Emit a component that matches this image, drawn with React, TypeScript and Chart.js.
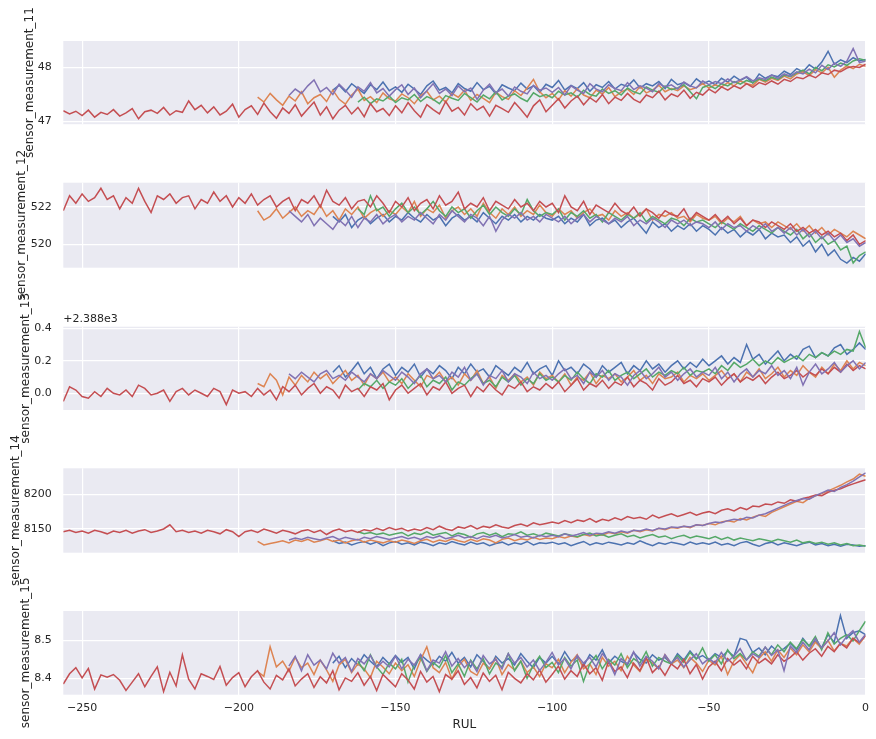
import { useEffect, useRef } from "react";
import { Chart, registerables } from "chart.js";

Chart.register(...registerables);
Chart.defaults.font.family = "'DejaVu Sans', 'Liberation Sans', sans-serif";

const WIDTH = 876;
const HEIGHT = 739;
const PLOT_LEFT = 63.3;
const PLOT_RIGHT = 865.7;
const TEXT = "#262626";

// one point every 2 cycles, the last point of every engine is RUL 0
const RUL_STEP = 2;
const RUL_MIN = -256;
const RUL_TICKS = [-250, -200, -150, -100, -50, 0];
// hue order: blue, orange, green, red, purple
const ENGINE_COLORS = ["#4c72b0", "#dd8452", "#55a868", "#c44e52", "#8172b3"];

// ---- sensor_measurement_11 ----
const s11Blue = [
  47.58, 47.67, 47.55, 47.7, 47.61, 47.52, 47.68, 47.59, 47.73, 47.57,
  47.64, 47.54, 47.69, 47.6, 47.5, 47.66, 47.75, 47.58, 47.63, 47.53,
  47.7, 47.61, 47.56, 47.72, 47.59, 47.65, 47.51, 47.68, 47.62, 47.57,
  47.71, 47.6, 47.66, 47.54, 47.69,
  47.63, 47.76, 47.58, 47.67, 47.61, 47.72, 47.56, 47.68, 47.63, 47.74,
  47.6, 47.69, 47.65, 47.77, 47.62, 47.7, 47.66, 47.74, 47.61, 47.78,
  47.68, 47.72, 47.65, 47.79, 47.7,
  47.75, 47.68, 47.8, 47.73, 47.84, 47.76, 47.82, 47.71, 47.88, 47.8,
  47.86, 47.83, 47.93,
  47.87, 47.98, 47.92, 48.05, 47.97, 48.1, 48.3, 48.06, 48.14, 48.09,
  48.18, 48.12, 48.15,
];
const s11Orange = [
  47.45, 47.36, 47.52, 47.4, 47.3, 47.47, 47.38, 47.55, 47.33, 47.44,
  47.5, 47.37, 47.58, 47.41, 47.32, 47.49, 47.6, 47.39, 47.46, 47.35,
  47.53, 47.42,
  47.38, 47.51, 47.44, 47.33, 47.48, 47.56, 47.4, 47.47, 47.36, 47.52,
  47.45, 47.58, 47.39, 47.5, 47.43, 47.35, 47.54, 47.46, 47.41, 47.57,
  47.48, 47.62, 47.78, 47.55, 47.44,
  47.52, 47.4, 47.57, 47.47, 47.61, 47.49, 47.44, 47.58, 47.51, 47.63,
  47.46, 47.55, 47.6, 47.5, 47.65, 47.53, 47.58, 47.67, 47.55, 47.61,
  47.57, 47.66, 47.59, 47.63, 47.7,
  47.62, 47.68, 47.64, 47.72, 47.66, 47.75, 47.7, 47.67, 47.78, 47.73,
  47.8, 47.76, 47.84,
  47.79, 47.88, 47.92, 47.85, 47.96, 47.9, 48.0, 47.82, 47.95, 48.03,
  47.98, 48.06, 48.02,
];
const s11Green = [
  47.36, 47.45, 47.33, 47.42, 47.38, 47.47,
  47.35, 47.44, 47.4, 47.5, 47.37, 47.46, 47.41, 47.33, 47.48, 47.43,
  47.39, 47.52, 47.44, 47.36, 47.49, 47.42, 47.55, 47.4, 47.47, 47.51,
  47.43, 47.37, 47.53, 47.46, 47.5,
  47.44, 47.56, 47.49, 47.53, 47.45, 47.58, 47.5, 47.47, 47.6, 47.52,
  47.57, 47.49, 47.62, 47.55, 47.51, 47.64, 47.58, 47.54, 47.66, 47.59,
  47.62, 47.68, 47.55, 47.42, 47.63,
  47.67, 47.61, 47.7, 47.66, 47.74, 47.69, 47.76, 47.72, 47.79, 47.75,
  47.82, 47.78, 47.86,
  47.83, 47.9, 47.95, 47.88, 48.0, 47.94, 48.05, 48.01, 48.08, 48.04,
  48.12, 48.16, 48.13,
];
const s11Red = [
  47.2, 47.14, 47.19, 47.11, 47.21, 47.08, 47.17, 47.13, 47.22, 47.1,
  47.16, 47.24, 47.05, 47.18, 47.21, 47.15, 47.26, 47.12, 47.2, 47.17,
  47.38, 47.22, 47.3, 47.16, 47.27, 47.12, 47.19, 47.32,
  47.08, 47.22, 47.29, 47.13, 47.34, 47.18, 47.06, 47.25, 47.15, 47.31,
  47.1, 47.23, 47.36, 47.12, 47.27, 47.05, 47.21, 47.3, 47.14, 47.26,
  47.09, 47.33, 47.18, 47.24, 47.11,
  47.29, 47.16, 47.35, 47.2, 47.08, 47.31, 47.22, 47.14, 47.37, 47.19,
  47.26, 47.12, 47.33, 47.21, 47.28, 47.1, 47.3, 47.24, 47.17, 47.35,
  47.22, 47.08, 47.29, 47.4, 47.18,
  47.3, 47.42, 47.25, 47.38, 47.47, 47.31, 47.44, 47.36, 47.5, 47.33,
  47.45, 47.39, 47.52, 47.41, 47.35, 47.49, 47.44, 47.56, 47.4, 47.51,
  47.46, 47.58, 47.43, 47.54, 47.49,
  47.6, 47.53, 47.64, 47.58, 47.66, 47.61, 47.7, 47.63, 47.72, 47.68,
  47.75, 47.69, 47.78, 47.74, 47.82, 47.79, 47.86, 47.81, 47.9, 47.87,
  47.95, 47.92, 47.99, 48.02, 48.0, 48.06,
];
const s11Purple = [
  47.48, 47.6, 47.52, 47.66, 47.77, 47.55, 47.63, 47.5, 47.69, 47.58,
  47.45, 47.64, 47.56, 47.72, 47.53, 47.61, 47.47,
  47.59, 47.68, 47.5, 47.62, 47.44, 47.57, 47.7, 47.52, 47.6, 47.48,
  47.66, 47.55, 47.62, 47.41, 47.58, 47.69, 47.53, 47.6, 47.47, 47.64,
  47.56, 47.51, 47.67, 47.58, 47.62,
  47.54, 47.63, 47.49, 47.66, 47.58, 47.52, 47.7, 47.6, 47.55, 47.68,
  47.61, 47.57, 47.72, 47.59, 47.66, 47.62, 47.55, 47.7, 47.64, 47.68,
  47.6, 47.73, 47.66, 47.62, 47.75,
  47.68, 47.74, 47.7, 47.79, 47.72, 47.77, 47.83, 47.75, 47.81, 47.78,
  47.86, 47.8, 47.88,
  47.84, 47.92, 47.88, 47.97, 47.9, 48.04, 47.96, 48.08, 48.02, 48.12,
  48.35, 48.09, 48.12,
];

// ---- sensor_measurement_12 ----
const s12Blue = [
  521.5, 521.2, 521.6, 520.9, 521.3, 521.5, 521.1, 521.4, 521.6, 521.2,
  521.5, 521.3, 521.7, 521.4, 521.2, 521.6, 521.3, 521.5, 521.0, 521.4,
  521.6, 521.3, 521.5, 521.2, 521.7, 521.4, 521.1, 521.5, 521.3, 521.6,
  521.2, 521.5, 521.3, 521.6, 521.4,
  521.3, 521.5, 521.1, 521.4, 521.2, 521.6, 521.0, 521.3, 521.4, 521.1,
  521.3, 520.9, 521.2, 521.4, 521.0, 520.6, 521.2, 520.9, 521.1, 520.7,
  521.0, 520.8, 521.1, 520.7, 521.0,
  520.8, 520.5, 520.9, 520.6, 520.8, 520.4, 520.7, 520.5, 520.8, 520.3,
  520.6, 520.4, 520.5,
  520.1, 520.4, 519.9, 520.2, 519.6, 520.0, 519.4, 519.7, 519.2, 519.0,
  519.3, 519.1, 519.5,
];
const s12Orange = [
  521.8, 521.3, 521.5, 521.9, 521.4, 521.7, 522.0, 521.5, 521.8, 521.6,
  522.1, 521.5, 521.8, 521.3, 521.9, 521.6, 522.0, 521.4, 521.7, 521.9,
  521.5, 521.8,
  521.6, 522.0, 521.7, 522.3, 521.5, 521.9, 521.7, 522.1, 521.4, 521.8,
  522.0, 521.6, 521.9, 521.5, 522.2, 521.7, 521.4, 521.9, 521.6, 522.0,
  521.5, 521.8, 521.6, 522.1, 521.7,
  521.5, 521.9, 521.6, 521.8, 521.4, 521.7, 521.9, 521.5, 521.6, 521.3,
  521.8, 521.5, 521.7, 521.4, 521.6, 521.9, 521.3, 521.6, 521.5, 521.7,
  521.4, 521.5, 521.2, 521.6, 521.4,
  521.3, 521.5, 521.1, 521.4, 521.2, 521.5, 521.0, 521.3, 521.1, 521.2,
  520.9, 521.2, 521.0,
  520.8, 521.1, 520.7, 521.0, 520.6, 520.9, 520.5, 520.8, 520.6, 520.4,
  520.7, 520.5, 520.3,
];
const s12Green = [
  521.9, 521.6, 522.6, 521.8, 522.0, 521.5,
  521.9, 522.2, 521.7, 522.0, 521.6, 521.9, 522.3, 521.8, 521.5, 522.0,
  521.7, 521.9, 521.4, 521.8, 522.1, 521.6, 522.0, 521.7, 521.5, 521.9,
  521.6, 522.4, 521.8, 521.5, 521.7,
  521.6, 521.9, 521.3, 521.7, 521.5, 521.8, 521.4, 521.6, 521.2, 521.7,
  521.5, 521.3, 521.6, 521.4, 521.7, 521.2, 521.5, 521.3, 521.1, 521.4,
  521.3, 521.0, 521.4, 521.2, 521.3,
  521.1, 520.9, 521.2, 521.0, 520.8, 521.1, 520.9, 520.7, 521.0, 520.8,
  520.6, 520.9, 520.7,
  520.5, 520.8, 520.3, 520.6, 520.1, 520.4, 520.0, 520.2, 519.7, 519.9,
  519.0, 519.4, 519.6,
];
const s12Red = [
  521.8, 522.6, 522.2, 522.7, 522.3, 522.5, 523.0, 522.4, 522.6, 521.9,
  522.5, 522.2, 523.0, 522.3, 521.7, 522.6, 522.4, 522.7, 522.2, 522.5,
  522.6, 521.9, 522.4, 522.2, 522.8, 522.3, 522.6, 522.0,
  522.5, 522.2, 522.7, 522.1, 522.4, 522.6, 522.0, 522.3, 522.5, 521.8,
  522.4, 522.2, 522.6, 522.0, 522.9, 522.3, 522.1, 522.5, 521.9, 522.3,
  522.4, 522.0, 522.6, 522.2, 521.7,
  522.3, 522.0, 522.5, 521.8, 522.2, 522.4, 521.9, 522.6, 522.1, 522.3,
  522.8, 521.9, 522.2, 522.0, 522.5, 521.8, 522.3, 522.1, 521.9, 522.4,
  522.0, 522.2, 521.8, 522.3, 522.0,
  522.2, 521.7, 522.6, 522.0, 521.8, 522.3, 521.6, 522.1, 521.9, 521.7,
  522.2, 521.8, 521.6, 522.0, 521.5, 521.9, 521.7, 521.4, 521.8, 521.6,
  521.5, 521.9, 521.3, 521.7, 521.5,
  521.3, 521.6, 521.2, 521.5, 521.1, 521.4, 521.0, 521.3, 521.2, 520.9,
  521.2, 521.0, 520.8, 521.1, 520.7, 520.9, 520.6, 520.8, 520.5, 520.7,
  520.4, 520.6, 520.2, 520.5, 520.0, 520.2,
];
const s12Purple = [
  521.8, 521.5, 521.2, 521.6, 521.0, 521.4, 521.1, 520.8, 521.3, 521.0,
  521.5, 520.9, 521.4, 521.2, 521.6, 521.1, 521.4,
  521.6, 521.2, 521.5, 521.3, 521.7, 521.4, 521.1, 521.6, 521.3, 521.8,
  521.5, 521.2, 521.6, 521.4, 521.0, 521.5, 520.7, 521.3, 521.6, 521.4,
  521.7, 521.3, 521.5, 521.2, 521.6,
  521.4, 521.2, 521.5, 521.1, 521.4, 521.6, 521.2, 521.5, 521.3, 521.1,
  521.4, 521.2, 521.5, 521.0, 521.3, 521.1, 521.4, 521.2, 520.9, 521.3,
  521.1, 521.3, 521.0, 521.2, 521.1,
  520.9, 521.2, 520.8, 521.1, 520.9, 521.0, 520.7, 521.0, 520.8, 521.1,
  520.7, 520.9, 520.6,
  520.9, 520.5, 520.8, 520.4, 520.7, 520.3, 520.6, 520.2, 520.5, 520.1,
  520.3, 519.9, 520.1,
];

// ---- sensor_measurement_13 (offset from 2388) ----
const S13_BASE = 2388;
const s13Blue = [
  0.13, 0.17, 0.1, 0.14, 0.19, 0.12, 0.16, 0.09, 0.15, 0.18,
  0.11, 0.16, 0.13, 0.18, 0.1, 0.15, 0.12, 0.17, 0.14, 0.09,
  0.16, 0.12, 0.18, 0.13, 0.15, 0.1, 0.17, 0.14, 0.11, 0.16,
  0.13, 0.19, 0.12, 0.15, 0.17,
  0.11, 0.2, 0.14, 0.16, 0.12, 0.18, 0.15, 0.1, 0.17, 0.13,
  0.16, 0.19, 0.12, 0.17, 0.14, 0.2, 0.15, 0.18, 0.13, 0.17,
  0.2, 0.15, 0.19, 0.16, 0.21,
  0.17, 0.2, 0.23, 0.18, 0.22, 0.19, 0.3, 0.21, 0.24, 0.18,
  0.22, 0.26, 0.2,
  0.24, 0.21, 0.27, 0.29, 0.22, 0.25, 0.23, 0.28, 0.3, 0.24,
  0.27, 0.31, 0.27,
];
const s13Orange = [
  0.06, 0.04, 0.12, 0.08, -0.01, 0.1, 0.05, 0.11, 0.07, 0.13,
  0.09, 0.12, 0.06, 0.1, 0.14, 0.08, 0.11, 0.05, 0.12, 0.09,
  0.13, 0.07,
  0.1, 0.06, 0.12, 0.08, 0.04, 0.11, 0.09, 0.13, 0.07, 0.1,
  0.05, 0.12, 0.08, 0.14, 0.06, 0.1, 0.03, 0.11, 0.08, 0.12,
  0.07, 0.1, 0.05, 0.13, 0.09,
  0.11, 0.07, 0.12, 0.05, 0.1, 0.08, 0.13, 0.06, 0.11, 0.09,
  0.12, 0.07, 0.1, 0.14, 0.08, 0.11, 0.06, 0.12, 0.09, 0.1,
  0.13, 0.07, 0.11, 0.09, 0.12,
  0.08, 0.11, 0.14, 0.09, 0.12, 0.07, 0.13, 0.1, 0.15, 0.09,
  0.12, 0.16, 0.1,
  0.14, 0.11, 0.17, 0.13, 0.1, 0.16, 0.12, 0.18, 0.14, 0.2,
  0.15, 0.19, 0.17,
];
const s13Green = [
  0.02, 0.06, 0.04, 0.08, 0.03, 0.07,
  0.05, 0.09, 0.03, 0.07, 0.11, 0.04, 0.08, 0.06, 0.1, 0.02,
  0.07, 0.05, 0.09, 0.12, 0.06, 0.08, 0.04, 0.1, 0.07, 0.11,
  0.05, 0.09, 0.06, 0.12, 0.08,
  0.1, 0.07, 0.11, 0.08, 0.13, 0.09, 0.06, 0.12, 0.1, 0.14,
  0.08, 0.11, 0.13, 0.09, 0.12, 0.15, 0.1, 0.13, 0.11, 0.14,
  0.12, 0.16, 0.11, 0.14, 0.13,
  0.15, 0.12, 0.17, 0.14, 0.19, 0.16, 0.18, 0.21, 0.17, 0.2,
  0.18, 0.22, 0.19,
  0.21, 0.23, 0.2, 0.24, 0.22, 0.25, 0.23, 0.26, 0.24, 0.27,
  0.26, 0.38, 0.28,
];
const s13Red = [
  -0.05, 0.04, 0.02, -0.02, -0.03, 0.01, -0.02, 0.03, 0.0, -0.01,
  0.02, -0.02, 0.05, 0.03, -0.01, 0.0, 0.02, -0.05, 0.01, 0.03,
  -0.01, 0.02, 0.0, -0.02, 0.03, 0.01, -0.07, 0.02,
  0.0, 0.01, -0.02, 0.03, -0.01, 0.02, -0.04, 0.04, 0.01, 0.05,
  -0.01, 0.03, 0.06, 0.0, 0.04, 0.02, -0.03, 0.05, 0.01, 0.03,
  -0.02, 0.04, 0.02, 0.06, -0.04,
  0.02, 0.05, 0.0, 0.03, 0.06, -0.01, 0.04, 0.02, 0.07, 0.0,
  0.03, 0.05, -0.02, 0.04, 0.01, 0.06, 0.02, -0.01, 0.05, 0.03,
  0.07, 0.01, 0.04, 0.02, 0.06,
  0.03, 0.07, 0.01, 0.05, 0.09, 0.02, 0.06, 0.04, 0.08, 0.03,
  0.07, 0.05, 0.1, 0.04, 0.08, 0.06, 0.02, 0.09, 0.05, 0.07,
  0.11, 0.06, 0.08, 0.04, 0.09,
  0.07, 0.1, 0.05, 0.09, 0.12, 0.07, 0.1, 0.08, 0.11, 0.06,
  0.1, 0.13, 0.09, 0.11, 0.14, 0.1, 0.13, 0.11, 0.15, 0.12,
  0.16, 0.13, 0.18, 0.14, 0.17, 0.15,
];
const s13Purple = [
  0.12, 0.09, 0.13, 0.1, 0.07, 0.12, 0.14, 0.09, 0.11, 0.08,
  0.13, 0.1, 0.07, 0.12, 0.09, 0.14, 0.11,
  0.08, 0.13, 0.1, 0.06, 0.12, 0.15, 0.09, 0.11, 0.07, 0.13,
  0.1, 0.16, 0.08, 0.12, 0.05, 0.11, 0.09, 0.14, 0.07, 0.12,
  0.1, 0.06, 0.13, 0.09, 0.11,
  0.08, 0.12, 0.15, 0.09, 0.11, 0.06, 0.13, 0.1, 0.14, 0.08,
  0.12, 0.1, 0.05, 0.11, 0.14, 0.09, 0.12, 0.16, 0.1, 0.13,
  0.08, 0.12, 0.15, 0.1, 0.13,
  0.11, 0.16, 0.09, 0.13, 0.07, 0.12, 0.15, 0.1, 0.14, 0.12,
  0.17, 0.11, 0.14,
  0.09, 0.16, 0.05, 0.13, 0.18, 0.12, 0.15, 0.19, 0.13, 0.17,
  0.2, 0.15, 0.19,
];

// ---- sensor_measurement_14 ----
const s14Blue = [
  8133, 8129, 8131, 8127, 8130, 8132, 8128, 8131, 8126, 8130,
  8132, 8128, 8130, 8127, 8131, 8129, 8126, 8130, 8128, 8132,
  8129, 8127, 8131, 8128, 8130, 8126, 8129, 8131, 8127, 8130,
  8128, 8132, 8127, 8130, 8129,
  8131, 8128, 8130, 8126, 8129, 8132, 8127, 8130, 8128, 8131,
  8129, 8127, 8130, 8128, 8133, 8129, 8126, 8130, 8128, 8131,
  8129, 8127, 8131, 8128, 8130,
  8128, 8131, 8127, 8129, 8126, 8130, 8132, 8128, 8125, 8129,
  8131, 8127, 8130,
  8128, 8126, 8129, 8131, 8127, 8129, 8126, 8128, 8125, 8128,
  8127, 8125, 8126,
];
const s14Orange = [
  8132, 8127, 8129, 8131, 8133, 8130, 8134, 8132, 8135, 8131,
  8133, 8136, 8132, 8134, 8130, 8133, 8135, 8131, 8134, 8132,
  8130, 8133,
  8131, 8134, 8132, 8129, 8133, 8135, 8131, 8134, 8132, 8136,
  8133, 8131, 8135, 8132, 8136, 8134, 8130, 8135, 8137, 8133,
  8136, 8134, 8138, 8135, 8137,
  8136, 8139, 8137, 8140, 8138, 8142, 8140, 8143, 8141, 8145,
  8143, 8146, 8144, 8148, 8146, 8149, 8147, 8151, 8149, 8152,
  8151, 8154, 8152, 8156, 8155,
  8158, 8156, 8160, 8162, 8160, 8165, 8163, 8167, 8170, 8168,
  8174, 8178, 8182,
  8186, 8190, 8188, 8194, 8198, 8201, 8205, 8209, 8213, 8218,
  8222, 8229, 8226,
];
const s14Green = [
  8146, 8143, 8145, 8142, 8144, 8141,
  8143, 8145, 8140, 8144, 8142, 8146, 8141, 8143, 8145, 8140,
  8144, 8142, 8138, 8143, 8145, 8141, 8144, 8139, 8143, 8142,
  8146, 8141, 8143, 8140, 8144,
  8142, 8140, 8143, 8141, 8139, 8142, 8144, 8140, 8142, 8138,
  8141, 8143, 8139, 8141, 8137, 8140, 8142, 8138, 8140, 8136,
  8139, 8141, 8137, 8140, 8138,
  8136, 8139, 8135, 8138, 8134, 8137, 8135, 8133, 8136, 8134,
  8132, 8135, 8133,
  8131, 8134, 8130, 8132, 8129, 8131, 8128, 8130, 8127, 8129,
  8126, 8127, 8125,
];
const s14Red = [
  8146, 8148, 8145, 8147, 8144, 8148, 8146, 8143, 8147, 8145,
  8148, 8144, 8147, 8149, 8145, 8147, 8150, 8156, 8146, 8148,
  8145, 8147, 8144, 8148, 8146, 8143, 8149, 8146,
  8139, 8146, 8148, 8145, 8150, 8147, 8144, 8148, 8146, 8143,
  8147, 8149, 8145, 8148, 8142, 8147, 8150, 8146, 8148, 8145,
  8149, 8147, 8151, 8148, 8152,
  8149, 8151, 8147, 8150, 8148, 8152, 8149, 8154, 8150, 8148,
  8153, 8151, 8155, 8150, 8154, 8152, 8156, 8153, 8151, 8155,
  8157, 8154, 8159, 8156, 8158,
  8160, 8158, 8162, 8159, 8163, 8161, 8165, 8160, 8164, 8162,
  8166, 8163, 8168, 8165, 8167, 8164, 8170, 8166, 8169, 8172,
  8168, 8171, 8174, 8170, 8173,
  8175, 8172, 8177, 8179, 8176, 8181, 8178, 8183, 8182, 8186,
  8185, 8189, 8187, 8192, 8190, 8194, 8196, 8199, 8198, 8203,
  8206, 8208, 8212, 8215, 8218, 8221,
];
const s14Purple = [
  8134, 8137, 8135, 8138, 8136, 8134, 8137, 8139, 8135, 8138,
  8136, 8134, 8138, 8136, 8139, 8137, 8135,
  8137, 8139, 8136, 8138, 8135, 8139, 8137, 8140, 8136, 8138,
  8141, 8137, 8139, 8136, 8140, 8138, 8141, 8137, 8139, 8142,
  8138, 8140, 8137, 8141, 8139,
  8141, 8139, 8143, 8140, 8142, 8145, 8141, 8144, 8143, 8146,
  8144, 8147, 8145, 8148, 8147, 8150, 8148, 8151, 8150, 8153,
  8152, 8154, 8153, 8156, 8155,
  8158, 8160, 8159, 8162, 8164, 8163, 8167, 8166, 8170, 8172,
  8176, 8180, 8184,
  8188, 8191, 8194, 8193, 8198, 8202, 8206, 8204, 8210, 8214,
  8219, 8225, 8231,
];

// ---- sensor_measurement_15 ----
const s15Blue = [
  8.44, 8.458, 8.428, 8.452, 8.435, 8.462, 8.445, 8.43, 8.455, 8.438,
  8.46, 8.442, 8.455, 8.425, 8.462, 8.448, 8.435, 8.458, 8.445, 8.468,
  8.44, 8.455, 8.43, 8.462, 8.445, 8.425, 8.458, 8.44, 8.452, 8.435,
  8.465, 8.445, 8.428, 8.455, 8.44,
  8.458, 8.438, 8.47, 8.445, 8.455, 8.432, 8.462, 8.448, 8.475, 8.44,
  8.458, 8.445, 8.435, 8.468, 8.45, 8.44, 8.462, 8.448, 8.455, 8.438,
  8.465, 8.448, 8.472, 8.452, 8.46,
  8.448, 8.465, 8.455, 8.472, 8.458, 8.505, 8.5, 8.468, 8.48, 8.462,
  8.485, 8.47, 8.478,
  8.492, 8.475, 8.505, 8.485, 8.498, 8.48, 8.515, 8.495, 8.565, 8.505,
  8.52, 8.525, 8.515,
];
const s15Orange = [
  8.418, 8.405, 8.483, 8.43, 8.445, 8.418, 8.455, 8.428, 8.44, 8.41,
  8.448, 8.422, 8.392, 8.435, 8.45, 8.415, 8.438, 8.425, 8.402, 8.445,
  8.43, 8.412,
  8.44, 8.42, 8.436, 8.405, 8.448, 8.483, 8.428, 8.415, 8.442, 8.398,
  8.432, 8.45, 8.418, 8.408, 8.44, 8.425, 8.452, 8.41, 8.436, 8.422,
  8.445, 8.415, 8.43, 8.405, 8.438,
  8.428, 8.45, 8.415, 8.442, 8.462, 8.425, 8.438, 8.41, 8.455, 8.432,
  8.445, 8.42, 8.458, 8.435, 8.418, 8.45, 8.44, 8.425, 8.462, 8.438,
  8.448, 8.428, 8.455, 8.44, 8.418,
  8.448, 8.435, 8.458, 8.41, 8.445, 8.462, 8.438, 8.415, 8.452, 8.47,
  8.445, 8.475, 8.455,
  8.48, 8.462, 8.488, 8.47, 8.495, 8.478, 8.5, 8.472, 8.492, 8.485,
  8.505, 8.49, 8.512,
];
const s15Green = [
  8.445, 8.42, 8.462, 8.43, 8.41, 8.44,
  8.425, 8.45, 8.39, 8.435, 8.455, 8.418, 8.442, 8.428, 8.46, 8.415,
  8.438, 8.405, 8.448, 8.425, 8.452, 8.412, 8.44, 8.43, 8.465, 8.42,
  8.445, 8.4, 8.435, 8.458, 8.428,
  8.442, 8.415, 8.455, 8.432, 8.448, 8.392, 8.438, 8.46, 8.425, 8.45,
  8.435, 8.465, 8.428, 8.452, 8.44, 8.47, 8.432, 8.455, 8.445, 8.438,
  8.46, 8.442, 8.468, 8.45, 8.48,
  8.445, 8.462, 8.438, 8.475, 8.452, 8.465, 8.448, 8.47, 8.458, 8.482,
  8.462, 8.488, 8.47,
  8.495, 8.478, 8.502, 8.485, 8.51, 8.475, 8.52, 8.49, 8.505, 8.515,
  8.498, 8.525, 8.55,
];
const s15Red = [
  8.385, 8.412, 8.428, 8.401, 8.426, 8.372, 8.409, 8.403, 8.41, 8.395,
  8.368, 8.39, 8.412, 8.378, 8.405, 8.43, 8.365, 8.416, 8.38, 8.462,
  8.398, 8.372, 8.412, 8.405, 8.397, 8.431, 8.382, 8.402,
  8.415, 8.378, 8.404, 8.42, 8.39, 8.372, 8.408, 8.396, 8.425, 8.38,
  8.398, 8.412, 8.376, 8.404, 8.388, 8.42, 8.37, 8.401, 8.392, 8.415,
  8.382, 8.405, 8.368, 8.41, 8.394,
  8.378, 8.412, 8.396, 8.372, 8.418, 8.39, 8.405, 8.365, 8.41, 8.398,
  8.42, 8.384, 8.402, 8.375, 8.414, 8.392, 8.408, 8.37, 8.416, 8.4,
  8.388, 8.412, 8.396, 8.422, 8.39,
  8.41, 8.432, 8.398, 8.42, 8.405, 8.438, 8.412, 8.428, 8.395, 8.445,
  8.418, 8.43, 8.402, 8.44, 8.42, 8.455, 8.415, 8.432, 8.408, 8.438,
  8.425, 8.45, 8.412, 8.436, 8.398,
  8.43, 8.445, 8.42, 8.452, 8.435, 8.448, 8.425, 8.458, 8.44, 8.452,
  8.438, 8.462, 8.445, 8.455, 8.47, 8.448, 8.466, 8.478, 8.458, 8.484,
  8.47, 8.492, 8.48, 8.505, 8.494, 8.512,
];
const s15Purple = [
  8.432, 8.458, 8.42, 8.462, 8.435, 8.448, 8.425, 8.466, 8.44, 8.455,
  8.418, 8.452, 8.438, 8.46, 8.428, 8.445, 8.43,
  8.458, 8.425, 8.45, 8.435, 8.462, 8.42, 8.448, 8.44, 8.47, 8.432,
  8.452, 8.428, 8.445, 8.418, 8.46, 8.438, 8.45, 8.425, 8.465, 8.44,
  8.455, 8.43, 8.448, 8.42, 8.442,
  8.468, 8.435, 8.452, 8.425, 8.46, 8.44, 8.455, 8.43, 8.465, 8.445,
  8.41, 8.452, 8.438, 8.47, 8.432, 8.458, 8.445, 8.425, 8.462, 8.44,
  8.455, 8.43, 8.448, 8.465, 8.438,
  8.452, 8.44, 8.468, 8.445, 8.458, 8.478, 8.448, 8.465, 8.455, 8.482,
  8.46, 8.475, 8.42,
  8.485, 8.468, 8.495, 8.475, 8.505, 8.48, 8.498, 8.52, 8.488, 8.51,
  8.525, 8.495, 8.515,
];

type PanelSpec = {
  name: string;
  engines: number[][];
  base: number;
  yMin: number;
  yMax: number;
  yTicks: number[];
  digits: number;
  offsetText?: string;
};

const PANELS: PanelSpec[] = [
  {
    name: "sensor_measurement_11",
    engines: [s11Blue, s11Orange, s11Green, s11Red, s11Purple],
    base: 0,
    yMin: 46.95,
    yMax: 48.49,
    yTicks: [47, 48],
    digits: 0,
  },
  {
    name: "sensor_measurement_12",
    engines: [s12Blue, s12Orange, s12Green, s12Red, s12Purple],
    base: 0,
    yMin: 518.75,
    yMax: 523.3,
    yTicks: [520, 522],
    digits: 0,
  },
  {
    name: "sensor_measurement_13",
    engines: [s13Blue, s13Orange, s13Green, s13Red, s13Purple],
    base: S13_BASE,
    yMin: -0.103,
    yMax: 0.41,
    yTicks: [0, 0.2, 0.4],
    digits: 1,
    offsetText: "+2.388e3",
  },
  {
    name: "sensor_measurement_14",
    engines: [s14Blue, s14Orange, s14Green, s14Red, s14Purple],
    base: 0,
    yMin: 8115.8,
    yMax: 8237.5,
    yTicks: [8150, 8200],
    digits: 0,
  },
  {
    name: "sensor_measurement_15",
    engines: [s15Blue, s15Orange, s15Green, s15Red, s15Purple],
    base: 0,
    yMin: 8.357,
    yMax: 8.577,
    yTicks: [8.4, 8.5],
    digits: 1,
  },
];

// pixel placement of each subplot: plot top, plot bottom, y-label centre
const PANEL_BOXES = [
  { top: 41, bottom: 124.2, labelX: 29.6 },
  { top: 182.7, bottom: 267.7, labelX: 21.8 },
  { top: 326.7, bottom: 410, labelX: 26.2 },
  { top: 468.3, bottom: 552.7, labelX: 15.4 },
  { top: 611, bottom: 694.7, labelX: 25.9 },
];

const fmtRul = (v: number) => (v < 0 ? "\u2212" + Math.abs(v) : String(v));

const panelDecor = {
  id: "panelDecor",
  beforeDraw(chart: any) {
    const { ctx, chartArea } = chart;
    ctx.save();
    ctx.fillStyle = "#eaeaf2";
    ctx.fillRect(chartArea.left, chartArea.top, chartArea.right - chartArea.left, chartArea.bottom - chartArea.top);
    ctx.restore();
  },
  afterDraw(chart: any, _args: any, opts: any) {
    if (!opts || !opts.text) return;
    const { ctx, chartArea } = chart;
    ctx.save();
    ctx.fillStyle = TEXT;
    ctx.font = "11px 'DejaVu Sans', sans-serif";
    ctx.textAlign = "left";
    ctx.textBaseline = "middle";
    ctx.fillText(opts.text, chartArea.left, chartArea.top - 7.7);
    ctx.restore();
  },
};

function SensorPanel({ index }: { index: number }) {
  const canvasRef = useRef<HTMLCanvasElement | null>(null);
  const chartRef = useRef<Chart | null>(null);

  useEffect(() => {
    if (!canvasRef.current) {
      return;
    }
    if (chartRef.current) {
      chartRef.current.destroy();
    }

    const spec = PANELS[index];
    const box = PANEL_BOXES[index];
    const isLast = index === PANELS.length - 1;
    const xHeight = isLast ? 38 : 0;
    const padLeft = box.labelX - 7.2;

    const datasets = spec.engines.map((values, k) => ({
      data: values.map((v, i) => ({
        x: (i - (values.length - 1)) * RUL_STEP,
        y: spec.base + v,
      })),
      borderColor: ENGINE_COLORS[k],
      borderWidth: 1.5,
      pointRadius: 0,
      tension: 0,
      fill: false,
      order: spec.engines.length - 1 - k,
    }));

    chartRef.current = new Chart(canvasRef.current, {
      type: "line",
      data: { datasets },
      plugins: [panelDecor],
      options: {
        responsive: false,
        animation: false,
        events: [],
        layout: {
          padding: {
            left: padLeft,
            right: WIDTH - PLOT_RIGHT,
            top: box.top,
            bottom: HEIGHT - box.bottom - xHeight,
          },
        },
        plugins: {
          legend: { display: false },
          tooltip: { enabled: false },
          panelDecor: { text: spec.offsetText },
        } as any,
        scales: {
          x: {
            type: "linear",
            min: RUL_MIN,
            max: 0,
            afterBuildTicks: (s: any) => {
              s.ticks = RUL_TICKS.map((value) => ({ value }));
            },
            afterFit: (s: any) => {
              s.height = xHeight;
            },
            grid: { color: "#ffffff", lineWidth: 1.2, drawTicks: false },
            border: { display: false },
            ticks: {
              display: isLast,
              padding: 7,
              color: TEXT,
              font: { size: 11 },
              maxRotation: 0,
              autoSkip: false,
              callback: (v: any) => fmtRul(Number(v)),
            },
            title: {
              display: isLast,
              text: "RUL",
              color: TEXT,
              font: { size: 12 },
              padding: { top: 0, bottom: 1 },
            },
          },
          y: {
            type: "linear",
            min: spec.base + spec.yMin,
            max: spec.base + spec.yMax,
            afterBuildTicks: (s: any) => {
              s.ticks = spec.yTicks.map((t) => ({ value: spec.base + t }));
            },
            afterFit: (s: any) => {
              s.width = PLOT_LEFT - padLeft;
            },
            grid: { color: "#ffffff", lineWidth: 1.2, drawTicks: false },
            border: { display: false },
            ticks: {
              padding: 11.6,
              color: TEXT,
              font: { size: 11 },
              autoSkip: false,
              callback: (v: any) => (Number(v) - spec.base).toFixed(spec.digits),
            },
            title: {
              display: true,
              text: spec.name,
              color: TEXT,
              font: { size: 12 },
              padding: 0,
            },
          },
        },
      } as any,
    });

    return () => {
      chartRef.current?.destroy();
      chartRef.current = null;
    };
  }, [index]);

  return (
    <canvas
      ref={canvasRef}
      width={WIDTH}
      height={HEIGHT}
      style={{ position: "absolute", left: 0, top: 0 }}
    />
  );
}

export default function App() {
  return (
    <div
      style={{
        position: "fixed",
        left: 0,
        top: 0,
        width: WIDTH,
        height: HEIGHT,
        background: "#ffffff",
        overflow: "hidden",
      }}
    >
      {PANELS.map((p, i) => (
        <SensorPanel key={p.name} index={i} />
      ))}
    </div>
  );
}
